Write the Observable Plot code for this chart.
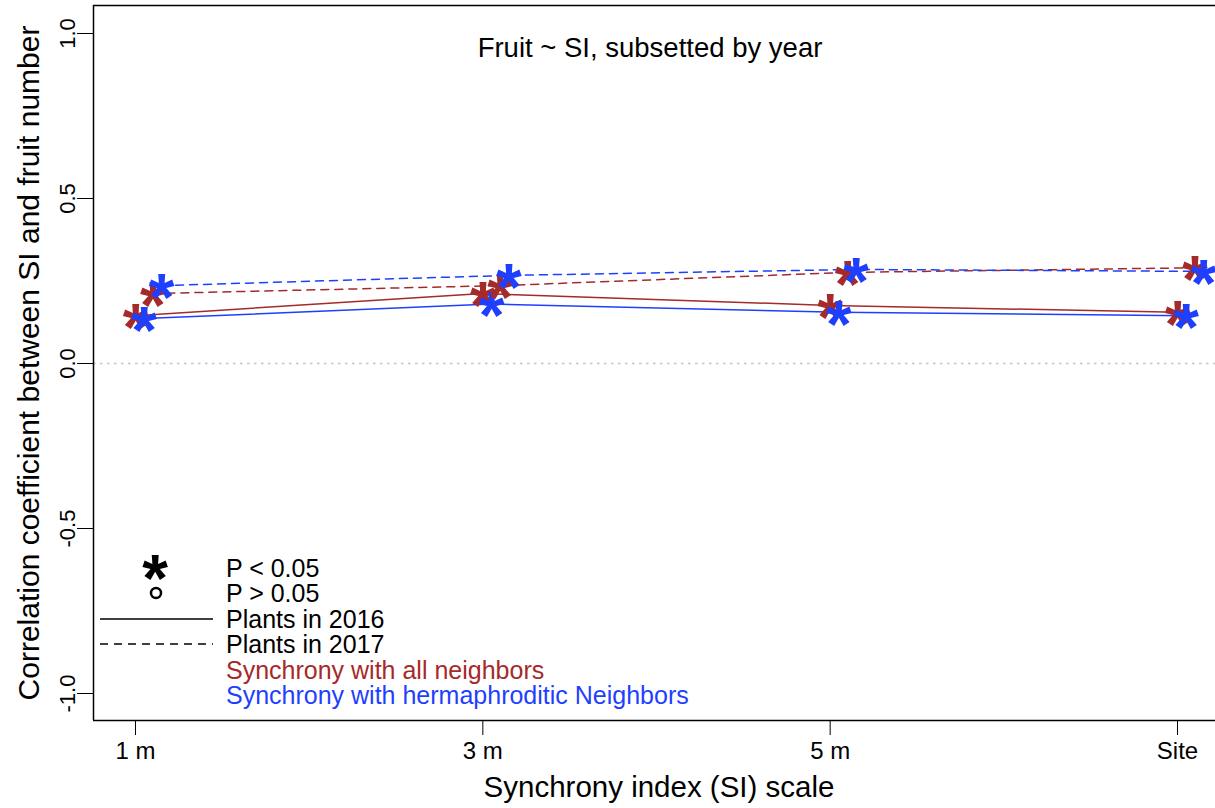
<!DOCTYPE html>
<html><head><meta charset="utf-8">
<script src="https://cdn.jsdelivr.net/npm/d3@7"></script>
<script src="https://cdn.jsdelivr.net/npm/@observablehq/plot@0.6"></script>
<style>
body{margin:0;background:#fff}
#chart{position:relative;width:1215px;height:808px;overflow:hidden}
svg{font-family:"Liberation Sans",Arial,Helvetica,sans-serif}
</style>
</head><body><div id="chart"></div>
<script>
// ---- data ----
const scaleLabels = ["1 m", "3 m", "5 m", "Site"];
const scalePos = [1, 2, 3, 4];
const yTicks = [-1, -0.5, 0, 0.5, 1];
const seriesKeys = ["all2016", "herm2016", "all2017", "herm2017"];
const seriesGroup = ["all", "herm", "all", "herm"];
const seriesYear = [2016, 2016, 2017, 2017];
const seriesOffset = [0, 0.025, 0.05, 0.075];
const allNeighbors2016 = [0.145, 0.212, 0.176, 0.155];
const hermNeighbors2016 = [0.136, 0.180, 0.155, 0.145];
const allNeighbors2017 = [0.212, 0.236, 0.276, 0.290];
const hermNeighbors2017 = [0.236, 0.267, 0.285, 0.279];
const seriesValues = [allNeighbors2016, hermNeighbors2016, allNeighbors2017, hermNeighbors2017];
const legendLabels = ["P < 0.05", "P > 0.05", "Plants in 2016", "Plants in 2017",
  "Synchrony with all neighbors", "Synchrony with hermaphroditic Neighbors"];
const titleText = "Fruit ~ SI, subsetted by year";
const xTitle = "Synchrony index (SI) scale";
const yTitle = "Correlation coefficient between SI and fruit number";

const RED = "#a52a2a", BLUE = "#1f3fff";

const rows = [];
seriesKeys.forEach((k, s) => {
  seriesValues[s].forEach((v, i) => {
    rows.push({series: k, group: seriesGroup[s], year: seriesYear[s], x: scalePos[i] + seriesOffset[s], y: v});
  });
});

const W = 1215, H = 808;
const mL = 93, mT = 5, mB = 88, mR = 0;
const xDomain = [0.8791, 4.1094];
const yDomain = [-1.0818, 1.0848];
const AST = 66;
const AST_DY = 0.2 * AST;

const plot = Plot.plot({
  width: W, height: H,
  marginLeft: mL, marginTop: mT, marginBottom: mB, marginRight: mR,
  style: {fontFamily: '"Liberation Sans", Arial, sans-serif', background: "#fff", overflow: "visible"},
  x: {domain: xDomain},
  y: {domain: yDomain},
  color: {domain: ["all", "herm"], range: [RED, BLUE]},
  marks: [
    Plot.ruleY([0], {stroke: "#c4c4c4", strokeWidth: 1.6, strokeDasharray: "2.5,4.5"}),
    Plot.line(rows.filter(d => d.year === 2016), {x: "x", y: "y", z: "series", stroke: "group", strokeWidth: 1.5}),
    Plot.line(rows.filter(d => d.year === 2017), {x: "x", y: "y", z: "series", stroke: "group", strokeWidth: 1.5, strokeDasharray: "8,6"}),
    Plot.text(rows, {x: "x", y: "y", text: () => "*", fill: "group", fontSize: AST, fontWeight: "bold", dy: AST_DY}),
    Plot.ruleX([xDomain[0]], {stroke: "#000", strokeWidth: 1.5}),
    Plot.ruleY([yDomain[0], yDomain[1]], {stroke: "#000", strokeWidth: 1.5}),
    Plot.axisX({ticks: scalePos, tickFormat: d => scaleLabels[scalePos.indexOf(d)], tickSize: 15, tickPadding: 6, fontSize: 24, label: null, stroke: "#000", color: "#000"}),
    Plot.axisY({ticks: yTicks, tickFormat: d => d.toFixed(1), tickSize: 16, tickPadding: 3, tickRotate: -90, fontSize: 22, label: null, color: "#000"})
  ]
});
document.getElementById("chart").appendChild(plot);

// titles and legend (annotations)
const svg = d3.select(plot);
svg.append("text").attr("x", 650).attr("y", 57).attr("text-anchor", "middle").attr("font-size", 27.5).attr("fill", "#000").text(titleText);
svg.append("text").attr("x", 659).attr("y", 797).attr("text-anchor", "middle").attr("font-size", 29.5).attr("fill", "#000").text(xTitle);
svg.append("text").attr("transform", "translate(39,363) rotate(-90)").attr("text-anchor", "middle").attr("font-size", 30).attr("fill", "#000").text(yTitle);

const lg = svg.append("g");
const tx = 226, base0 = 577, step = 25.4;
lg.append("text").attr("x", 155).attr("y", 567 + AST_DY + 0.32 * AST).attr("text-anchor", "middle").attr("font-size", AST).attr("font-weight", "bold").attr("fill", "#000").text("*");
lg.append("circle").attr("cx", 156).attr("cy", 593).attr("r", 5).attr("fill", "none").attr("stroke", "#000").attr("stroke-width", 2.5);
lg.append("line").attr("x1", 100).attr("x2", 213).attr("y1", 619).attr("y2", 619).attr("stroke", "#000").attr("stroke-width", 1.5);
lg.append("line").attr("x1", 100).attr("x2", 213).attr("y1", 644).attr("y2", 644).attr("stroke", "#000").attr("stroke-width", 1.5).attr("stroke-dasharray", "8,6");
const lcol = ["#000", "#000", "#000", "#000", RED, BLUE];
legendLabels.forEach((t, i) => {
  lg.append("text").attr("x", tx).attr("y", base0 + i * step).attr("text-anchor", "start").attr("font-size", 25).attr("fill", lcol[i]).text(t);
});
</script>
</body></html>
